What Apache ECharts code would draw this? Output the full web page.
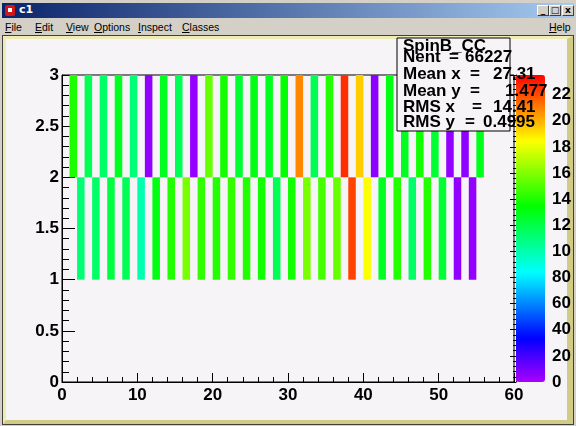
<!DOCTYPE html>
<html>
<head>
<meta charset="utf-8">
<script src="https://cdn.jsdelivr.net/npm/echarts@6/dist/echarts.min.js"></script>
<style>
  html, body { margin:0; padding:0; }
  body { width:576px; height:426px; background:#d4d0c8; position:relative; overflow:hidden; font-family:"Liberation Sans", Arial, sans-serif; }
  #titlebar { position:absolute; left:2px; top:3px; width:572px; height:15px; background:linear-gradient(to right,#0a246a,#a6caf0); }
  #icon { position:absolute; left:3px; top:2px; width:10px; height:11px; background:#d01818; border-radius:2px; }
  #icon:after { content:""; position:absolute; left:3px; top:3px; width:4px; height:4px; background:#fff; }
  #ttl { position:absolute; left:17px; top:0px; line-height:15px; color:#fff; font:bold 11px "DejaVu Sans", sans-serif; }
  .btn { position:absolute; top:2px; width:12px; height:11px; background:#d4d0c8; border:1px solid; border-color:#fff #404040 #404040 #fff; box-sizing:border-box; font:bold 9px "DejaVu Sans", sans-serif; color:#000; text-align:center; line-height:9px; }
  #menubar { position:absolute; left:0; top:18px; width:576px; height:17px; }
  .mi { position:absolute; top:2px; font:10.5px "Liberation Sans", Arial, sans-serif; color:#000; line-height:14px; }
  #frame { position:absolute; left:2px; top:35px; width:572px; height:390px; box-sizing:border-box; border:1px solid #404040; }
  #inner { position:absolute; left:0; top:0; right:0; bottom:0; background:#f6f4f6; border-top:3px solid #ecea b0; border-top:3px solid #eeebb4; border-left:3px solid #eeebb4; border-right:6px solid #d0cc86; border-bottom:4px solid #d0cc86; }
  #chart { position:absolute; left:0; top:0; width:576px; height:426px; }
</style>
</head>
<body>
<div id="titlebar"><div id="icon"></div><div id="ttl">c1</div>
  <div class="btn" style="left:535px;">_</div>
  <div class="btn" style="left:547px;">□</div>
  <div class="btn" style="left:560px;">x</div>
</div>
<div id="menubar">
  <span class="mi" style="left:5px;"><u>F</u>ile</span>
  <span class="mi" style="left:35px;"><u>E</u>dit</span>
  <span class="mi" style="left:66px;"><u>V</u>iew</span>
  <span class="mi" style="left:94px;"><u>O</u>ptions</span>
  <span class="mi" style="left:138px;"><u>I</u>nspect</span>
  <span class="mi" style="left:182px;"><u>C</u>lasses</span>
  <span class="mi" style="left:549px;"><u>H</u>elp</span>
</div>
<div id="frame"><div id="inner"></div></div>
<div id="chart"></div>
<script>
// ---- data ----
const topRowX = [1,3,5,7,9,11,13,15,17,19,21,23,25,27,29,31,33,35,37,39,41,43,45,47,49,51,53,55];
const topRowCounts = [1400,1175,1140,1280,1108,50,1280,1175,40,1545,1376,1245,1310,1280,1340,2081,1175,1410,2260,1947,60,1310,1280,1376,1245,45,55,1290];
const bottomRowX = [2,4,6,8,10,12,14,16,18,20,22,24,26,28,30,32,34,36,38,40,42,44,46,48,50,52,54];
const bottomRowCounts = [1108,1140,1210,1175,1000,1310,1410,1580,1440,1410,1440,1410,1376,1175,1376,1580,1475,1545,2220,1840,1280,1410,1140,1410,1245,50,45];
const topRowY = 2;
const bottomRowY = 1;
const xTickLabels = ['0','10','20','30','40','50','60'];
const yTickLabels = ['0','0.5','1','1.5','2','2.5','3'];
const paletteTickLabels = ['0','20','40','60','80','10','12','14','16','18','20','22'];
const zMax = 2350;
const statsTitle = 'SpinB_CC';
const statsNames = ['Nent', 'Mean x', 'Mean y', 'RMS x', 'RMS y'];
const statsValues = ['66227', '27.31', '1.477', '14.41', '0.4995'];

// ---- build ----
const cells = [];
topRowX.forEach((x, i) => cells.push([x, topRowY, topRowCounts[i]]));
bottomRowX.forEach((x, i) => cells.push([x, bottomRowY, bottomRowCounts[i]]));

const palette = ['#aa00ff','#5500ff','#0000ff','#0055ff','#00aaff','#00ffff','#00ffaa','#00ff55','#00ff00','#55ff00','#aaff00','#ffff00','#ffaa00','#ff5500','#ff0000'];
const FONT = 'Liberation Sans';
const lblStyle = { color:'#000', fontFamily:FONT, fontWeight:'bold', fontSize:17 };

const statsY = [57.5, 74.5, 91, 107, 122.5];
const eqX = [449, 470, 470, 472, 465];
const valX = [465, 493, 505, 493, 483];
const graphics = [
  { type:'rect', z:100, shape:{x:397, y:38, width:113, height:93}, style:{fill:'#f6f4f6', stroke:'#000', lineWidth:1} },
  { type:'text', z:101, x:403, y:46.5, style:{text:statsTitle, fill:'#000', font:'bold 17px "Liberation Sans"', verticalAlign:'middle'} }
];
statsNames.forEach((n, i) => {
  graphics.push({ type:'text', z:101, x:403, y:statsY[i], style:{text:n, fill:'#000', font:'bold 17px "Liberation Sans"', verticalAlign:'middle'} });
  graphics.push({ type:'text', z:101, x:eqX[i], y:statsY[i], style:{text:'=', fill:'#000', font:'bold 17px "Liberation Sans"', verticalAlign:'middle'} });
  graphics.push({ type:'text', z:101, x:valX[i], y:statsY[i], style:{text:statsValues[i], fill:'#000', font:'bold 17px "Liberation Sans"', verticalAlign:'middle'} });
});

const chart = echarts.init(document.getElementById('chart'), null, {renderer:'canvas'});
chart.setOption({
  backgroundColor:'transparent',
  animation:false,
  grid:[
    { left:62, top:75, width:452, height:307, show:true, borderColor:'#000', borderWidth:1, backgroundColor:'transparent', containLabel:false },
    { left:516, top:75, width:29, height:307, show:false }
  ],
  xAxis:[
    { type:'value', gridIndex:0, min:0, max:60, interval:10,
      axisLine:{show:true, lineStyle:{color:'#000', width:1}},
      axisTick:{show:true, inside:true, length:9, lineStyle:{color:'#000'}},
      minorTick:{show:true, splitNumber:5, length:5, lineStyle:{color:'#000'}},
      splitLine:{show:false},
      axisLabel:Object.assign({ margin:5, formatter:v => xTickLabels[Math.round(v/10)] }, lblStyle) },
    { type:'value', gridIndex:1, show:false, min:0, max:1 }
  ],
  yAxis:[
    { type:'value', gridIndex:0, min:0, max:3, interval:0.5,
      axisLine:{show:true, lineStyle:{color:'#000', width:1}},
      axisTick:{show:true, inside:true, length:13, lineStyle:{color:'#000'}},
      minorTick:{show:true, splitNumber:5, length:7, lineStyle:{color:'#000'}},
      splitLine:{show:false},
      axisLabel:Object.assign({ margin:3, formatter:v => yTickLabels[Math.round(v*2)] }, lblStyle) },
    { type:'value', gridIndex:1, position:'right', min:0, max:zMax, interval:200,
      axisLine:{show:true, lineStyle:{color:'#000', width:1}},
      axisTick:{show:true, inside:true, length:6, lineStyle:{color:'#000'}},
      minorTick:{show:true, splitNumber:5, length:3, lineStyle:{color:'#000'}},
      splitLine:{show:false},
      axisLabel:Object.assign({ margin:7, showMaxLabel:false, formatter:v => { const k = Math.round(v/200); return (v % 200 === 0 && paletteTickLabels[k] !== undefined) ? paletteTickLabels[k] : ''; } }, lblStyle) }
  ],
  visualMap:{
    type:'continuous', min:0, max:zMax, seriesIndex:0, dimension:2,
    left:516, top:75, itemWidth:29, itemHeight:307, padding:0,
    calculable:false, text:null, realtime:false, hoverLink:false,
    inRange:{ color:palette }, z:4
  },
  graphic:graphics,
  series:[{
    type:'custom', coordinateSystem:'cartesian2d', xAxisIndex:0, yAxisIndex:0,
    encode:{x:0, y:1}, data:cells, clip:true, z:2,
    renderItem:function(params, api){
      const x = api.value(0), y = api.value(1);
      const p0 = api.coord([x, y + 1]);
      const p1 = api.coord([x + 1, y]);
      return { type:'rect', shape:{ x:p0[0], y:p0[1], width:p1[0]-p0[0], height:p1[1]-p0[1] }, style:{ fill:api.visual('color') } };
    }
  }]
});
</script>
</body>
</html>
